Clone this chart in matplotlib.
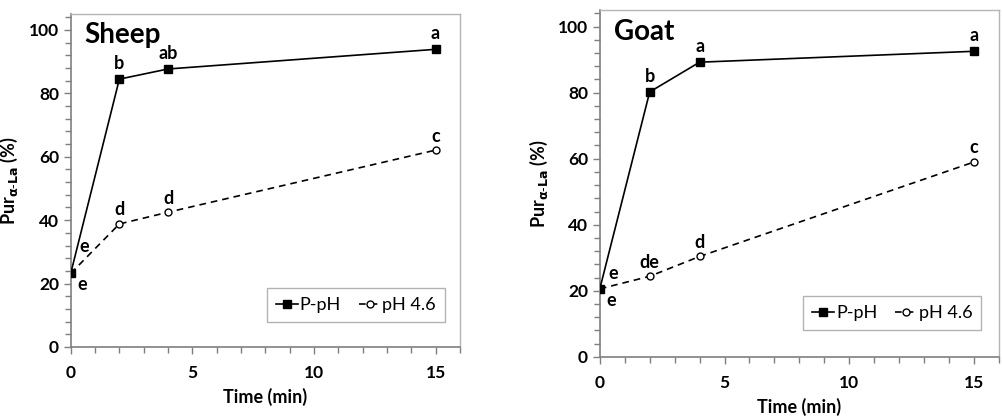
import numpy as np
import matplotlib.pyplot as plt
from matplotlib.ticker import MultipleLocator

plt.rcParams['font.family'] = ['Lato', 'DejaVu Sans']

# Sampling times (min)
time = [0, 2, 4, 15]

# Sheep purity values (%)
sheep_ppH = [23.2, 84.5, 87.7, 93.9]
sheep_pH46 = [23.2, 38.8, 42.5, 62.1]
sheep_ppH_letters = ['e', 'b', 'ab', 'a']
sheep_pH46_letters = ['e', 'd', 'd', 'c']

# Goat purity values (%)
goat_ppH = [20.6, 80.2, 89.2, 92.5]
goat_pH46 = [20.6, 24.4, 30.4, 59.0]
goat_ppH_letters = ['e', 'b', 'a', 'a']
goat_pH46_letters = ['e', 'de', 'd', 'c']

fig = plt.figure(figsize=(10.03, 4.16), dpi=100)
ax1 = fig.add_axes([0.0705, 0.166, 0.388, 0.800])
ax2 = fig.add_axes([0.598, 0.142, 0.398, 0.834])


def draw_panel(ax, title, ppH, pH46, ppH_lab, pH46_lab, leg_box, e_up):
    ax.plot(time, pH46, color='black', lw=1.2, ls=(0, (4, 3)), marker='o',
            ms=5, mfc='white', mec='black', mew=1.0, label='pH 4.6', zorder=3)
    ax.plot(time, ppH, color='black', lw=1.2, marker='s', ms=6,
            mfc='black', mec='black', label='P-pH', zorder=4)

    # significance letters
    for i, (t, v, s) in enumerate(zip(time, ppH, ppH_lab)):
        if i == 0:
            ax.annotate(s, (t, v), xytext=(5, -2), textcoords='offset points',
                        ha='left', va='top', fontsize=13, fontweight='bold')
        else:
            ax.annotate(s, (t, v), xytext=(0, 5), textcoords='offset points',
                        ha='center', va='bottom', fontsize=13, fontweight='bold')
    for i, (t, v, s) in enumerate(zip(time, pH46, pH46_lab)):
        if i == 0:
            ax.annotate(s, (t, v), xytext=e_up, textcoords='offset points',
                        ha='left', va='bottom', fontsize=13, fontweight='bold')
        else:
            ax.annotate(s, (t, v), xytext=(0, 4), textcoords='offset points',
                        ha='center', va='bottom', fontsize=13, fontweight='bold')

    ax.set_xlim(0, 16)
    ax.set_ylim(0, 105)
    ax.xaxis.set_major_locator(MultipleLocator(5))
    ax.xaxis.set_minor_locator(MultipleLocator(1))
    ax.yaxis.set_major_locator(MultipleLocator(20))
    ax.yaxis.set_minor_locator(MultipleLocator(4))
    ax.tick_params(which='both', direction='out', color='#7f7f7f', width=1)
    ax.tick_params(which='major', length=5, labelsize=12.5)
    ax.tick_params(which='minor', length=4)
    ax.tick_params(axis='x', pad=8)
    for lab in ax.get_xticklabels() + ax.get_yticklabels():
        lab.set_fontweight('bold')

    for side in ['top', 'right']:
        ax.spines[side].set_color('#b5b5b5')
        ax.spines[side].set_linewidth(1.0)
    for side in ['left', 'bottom']:
        ax.spines[side].set_color('#7f7f7f')
        ax.spines[side].set_linewidth(1.2)

    ax.set_xlabel('Time (min)', fontsize=13, fontweight='bold', labelpad=5)
    ax.set_ylabel(r'Pur$_{\mathbf{\alpha}\text{-}\mathbf{La}}$ (%)', fontsize=13,
                  fontweight='bold', labelpad=6)

    ax.text(0.035, 0.975, title, transform=ax.transAxes, fontsize=20,
            fontweight='bold', ha='left', va='top')

    handles, labels = ax.get_legend_handles_labels()
    leg = ax.legend(handles[::-1], labels[::-1], ncol=2, loc='center',
                    bbox_to_anchor=leg_box, bbox_transform=ax.transAxes,
                    fontsize=13, frameon=True, fancybox=False,
                    handlelength=1.2, handletextpad=0.1, columnspacing=1.0,
                    borderpad=0.5)
    leg.get_frame().set_edgecolor('#a0a0a0')
    leg.get_frame().set_linewidth(1.0)


draw_panel(ax1, 'Sheep', sheep_ppH, sheep_pH46, sheep_ppH_letters,
           sheep_pH46_letters, (0.733, 0.126), (6, 13))
draw_panel(ax2, 'Goat', goat_ppH, goat_pH46, goat_ppH_letters,
           goat_pH46_letters, (0.733, 0.127), (6, 5))

fig.savefig('out.png', dpi=100)
